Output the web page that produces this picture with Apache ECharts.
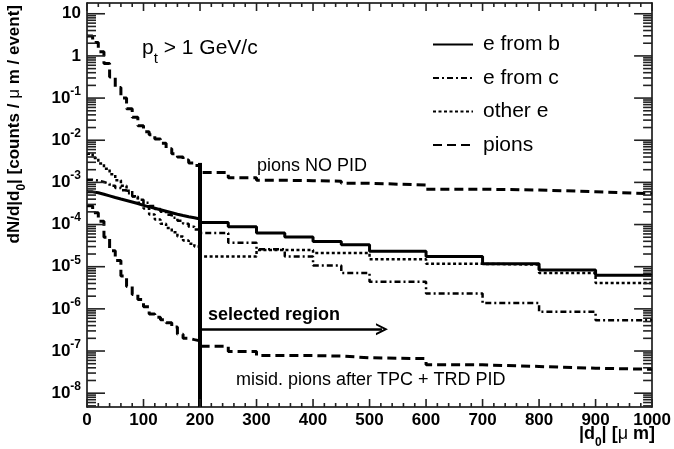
<!DOCTYPE html>
<html><head><meta charset="utf-8">
<script src="https://cdn.jsdelivr.net/npm/echarts@6/dist/echarts.min.js"></script>
<style>html,body{margin:0;padding:0;background:#fff}#c{width:674px;height:449px}</style>
</head><body><div id="c"></div>
<script>
// ---- data ----
const binEdges = [0,10,20,30,40,50,60,70,80,90,100,110,120,130,140,150,160,170,180,190,200,
                  250,300,350,400,450,500,600,700,800,900,1000];
const eFromB = [5.96e-4,5.69e-4,5.25e-4,4.79e-4,4.37e-4,4.03e-4,3.72e-4,3.43e-4,3.16e-4,2.85e-4,
                2.63e-4,2.43e-4,2.24e-4,2.07e-4,1.91e-4,1.76e-4,1.64e-4,1.53e-4,1.45e-4,1.36e-4,
                1.12e-4,8.85e-5,6.27e-5,5.04e-5,3.96e-5,3.31e-5,2.34e-5,1.74e-5,1.17e-5,8.3e-6,6.3e-6];
const eFromC = [1.15e-3,1.10e-3,1.02e-3,9.3e-4,8.3e-4,7.4e-4,6.5e-4,5.5e-4,4.7e-4,3.9e-4,
                3.3e-4,2.75e-4,2.34e-4,2.0e-4,1.7e-4,1.45e-4,1.23e-4,1.05e-4,8.9e-5,7.6e-5,
                6.3e-5,3.7e-5,2.6e-5,1.74e-5,1.07e-5,7.1e-6,4.4e-6,2.3e-6,1.38e-6,8.5e-7,5.4e-7];
const otherE = [4.8e-3,3.8e-3,2.8e-3,2.1e-3,1.55e-3,1.12e-3,8.3e-4,6.3e-4,4.6e-4,3.3e-4,
                2.4e-4,1.74e-4,1.32e-4,1.05e-4,8.3e-5,6.6e-5,5.2e-5,4.2e-5,3.5e-5,3.0e-5,
                1.74e-5,1.74e-5,2.5e-5,2.5e-5,2.1e-5,2.1e-5,1.5e-5,1.17e-5,1.12e-5,7.1e-6,4.1e-6];
const pionsNoPID = [2.95,2.09,1.26,0.66,0.316,0.178,0.1,0.056,0.035,0.022,
                    0.0158,0.0135,0.0107,0.0085,0.0063,0.0048,0.004,0.0034,0.0029,0.0025,
                    0.00172,0.00129,0.00112,0.0011,0.00107,0.00095,0.00087,0.00069,0.00066,0.0006,0.00054];
const pionsMisid = [2.8e-4,1.9e-4,1.2e-4,5.0e-5,2.4e-5,1.4e-5,6.0e-6,3.4e-6,2.2e-6,1.66e-6,
                    1.12e-6,7.6e-7,6.3e-7,5.5e-7,4.7e-7,3.7e-7,2.5e-7,2.0e-7,1.86e-7,1.74e-7,
                    1.29e-7,9.8e-8,7.8e-8,7.8e-8,7.6e-8,6.9e-8,6.6e-8,4.7e-8,4.3e-8,3.9e-8,3.7e-8];
const legendNames = ['e from b','e from c','other e','pions'];
const yMajorTicks = [1e-8,1e-7,1e-6,1e-5,1e-4,1e-3,1e-2,1e-1,1,10];
const xMajorTicks = [0,100,200,300,400,500,600,700,800,900,1000];
const xRange = [0, 1000];
const yRange = [4.7e-9, 18];
const cutX = 200;          // selected-region boundary (µm)
const cutTop = 2.9e-3;     // top of the boundary line
const arrowEndX = 522;     // arrow end (µm)
const arrowY = 3.3e-7;     // arrow height

// ---- helpers ----
function stepData(edges, vals) {
  const out = [];
  for (let i = 0; i < vals.length; i++) {
    out.push([edges[i], vals[i]]);
    out.push([edges[i + 1], vals[i]]);
  }
  return out;
}
const yMinorTicks = [];
for (let e = -9; e <= 1; e++) {
  for (let m = 2; m <= 9; m++) {
    const v = Number((m * Math.pow(10, e)).toPrecision(3));
    if (v >= yRange[0] && v <= yRange[1]) yMinorTicks.push(v);
  }
}
const xMinorTicks = [];
for (let i = 0; i < xMajorTicks.length - 1; i++) {
  for (let k = 1; k < 5; k++) xMinorTicks.push(xMajorTicks[i] + k * (xMajorTicks[i + 1] - xMajorTicks[i]) / 5);
}
// tick rows: [x, y, length, orientation(0 = y tick, 1 = x tick)]
const tickRows = [];
yMajorTicks.forEach(v => tickRows.push([xRange[0], v, 18, 0]));
yMinorTicks.forEach(v => tickRows.push([xRange[0], v, 9, 0]));
xMajorTicks.forEach(v => tickRows.push([v, 1, 8, 1]));
xMinorTicks.forEach(v => tickRows.push([v, 1, 4, 1]));

const FONT = "'Liberation Sans', Arial, Helvetica, sans-serif";
const BLACK = '#000';

function fmtY(v) {
  const e = Math.round(Math.log10(v));
  if (e === 0) return '{b|1}';
  if (e === 1) return '{b|10}';
  return '{b|10}{s|' + e + '}';
}
const yRich = {
  b: {fontSize: 17, fontWeight: 'bold', fontFamily: FONT, color: BLACK, lineHeight: 17, verticalAlign: 'bottom'},
  s: {fontSize: 12, fontWeight: 'bold', fontFamily: FONT, color: BLACK, lineHeight: 12, padding: [0, 0, 9, 0], verticalAlign: 'bottom'}
};

const axisLine = {show: true, onZero: false, lineStyle: {color: BLACK, width: 1.5}};
function xAxisDef(pos, showLabel) {
  return {
    type: 'value', position: pos, min: xRange[0], max: xRange[1], interval: 100,
    axisLine: axisLine,
    axisTick: {show: false},
    minorTick: {show: false},
    axisLabel: {show: showLabel, margin: 5, color: BLACK, fontSize: 17, fontWeight: 'bold', fontFamily: FONT,
                formatter: v => String(v)},
    splitLine: {show: false}, minorSplitLine: {show: false}
  };
}
function yAxisDef(pos, showLabel) {
  return {
    type: 'log', logBase: 10, position: pos, min: yRange[0], max: yRange[1],
    axisLine: axisLine,
    axisTick: {show: false},
    axisLabel: showLabel ? {show: true, customValues: yMajorTicks, margin: 6, formatter: fmtY, rich: yRich} : {show: false},
    splitLine: {show: false}, minorTick: {show: false}
  };
}

// ticks positioned through the axes' own scales
function renderTick(params, api) {
  const x = api.value(0), y = api.value(1), len = api.value(2), kind = api.value(3);
  const st = {stroke: '#222', lineWidth: 1.6};
  if (kind === 0) {
    const p = api.coord([xRange[0], y]);
    const q = api.coord([xRange[1], y]);
    return {type: 'group', children: [
      {type: 'line', shape: {x1: p[0], y1: p[1], x2: p[0] + len, y2: p[1]}, style: st},
      {type: 'line', shape: {x1: q[0] - len, y1: q[1], x2: q[0], y2: q[1]}, style: st}
    ]};
  }
  const b = api.coord([x, yRange[0]]);
  const t = api.coord([x, yRange[1]]);
  return {type: 'group', children: [
    {type: 'line', shape: {x1: b[0], y1: b[1], x2: b[0], y2: b[1] - len}, style: st},
    {type: 'line', shape: {x1: t[0], y1: t[1], x2: t[0], y2: t[1] + len}, style: st}
  ]};
}

const chart = echarts.init(document.getElementById('c'), null, {renderer: 'canvas'});
const option = {
  animation: false,
  backgroundColor: '#fff',
  grid: {left: 87, right: 19, top: 3, bottom: 42},
  xAxis: [xAxisDef('bottom', true), xAxisDef('top', false)],
  yAxis: [yAxisDef('left', true), yAxisDef('right', false)],
  legend: {
    data: legendNames, orient: 'vertical', left: 432, top: 34, padding: 0,
    itemWidth: 40, itemHeight: 14, itemGap: 12.5, selectedMode: false,
    itemStyle: {opacity: 0},
    textStyle: {fontSize: 21, fontFamily: FONT, color: BLACK, padding: [0, 0, 0, 5]}
  },
  series: [
    {name: 'e from b', type: 'line', symbol: 'none', z: 5, data: stepData(binEdges, eFromB),
     itemStyle: {color: BLACK}, lineStyle: {color: BLACK, width: 3, type: 'solid'},
     markLine: {
       silent: true, symbol: ['none', 'none'], label: {show: false}, animation: false,
       data: [
         [{coord: [cutX, cutTop], lineStyle: {color: BLACK, width: 4, type: 'solid'}}, {coord: [cutX, yRange[0]]}],
         [{coord: [cutX, arrowY], symbol: 'none', lineStyle: {color: BLACK, width: 2.5, type: 'solid'}},
          {coord: [arrowEndX, arrowY], symbol: 'path://M0,10 L5,0 L10,10 L8.2,10 L5,3.6 L1.8,10 Z', symbolSize: [12, 12]}]
       ]
     }},
    {name: 'e from c', type: 'line', symbol: 'none', z: 4, data: stepData(binEdges, eFromC),
     itemStyle: {color: BLACK}, lineStyle: {color: BLACK, width: 2.5, type: [6, 3, 2, 3]}},
    {name: 'other e', type: 'line', symbol: 'none', z: 4, data: stepData(binEdges, otherE),
     itemStyle: {color: BLACK}, lineStyle: {color: BLACK, width: 2.5, type: [3, 2.5]}},
    {name: 'pions', type: 'line', symbol: 'none', z: 4, data: stepData(binEdges, pionsNoPID),
     itemStyle: {color: BLACK}, lineStyle: {color: BLACK, width: 3, type: [9, 5]}},
    {name: 'pions misid', type: 'line', symbol: 'none', z: 4, data: stepData(binEdges, pionsMisid),
     itemStyle: {color: BLACK}, lineStyle: {color: BLACK, width: 3, type: [9, 5]}},
    {name: 'ticks', type: 'custom', coordinateSystem: 'cartesian2d', xAxisIndex: 0, yAxisIndex: 0,
     silent: true, z: 10, clip: false, data: tickRows,
     encode: {x: 0, y: 1}, renderItem: renderTick}
  ],
  graphic: [
    {type: 'text', x: 16, y: 5, rotation: Math.PI / 2, silent: true,
     style: {text: '{a|dN/d|d}{s|0}{a|| [counts / }{m|μ}{a| m / event]}', align: 'right', verticalAlign: 'middle', fill: BLACK,
       rich: {a: {fontSize: 17, fontWeight: 'bold', fontFamily: FONT, fill: BLACK, lineHeight: 20, verticalAlign: 'top'},
              s: {fontSize: 12, fontWeight: 'bold', fontFamily: FONT, fill: BLACK, lineHeight: 12, padding: [10, 0, 0, 0], verticalAlign: 'top'},
              m: {fontSize: 17, fontFamily: FONT, fill: BLACK, lineHeight: 20, verticalAlign: 'top'}}}},
    {type: 'text', x: 655, y: 425, silent: true,
     style: {text: '{a||d}{s|0}{a|| [}{m|μ}{a| m]}', align: 'right', verticalAlign: 'top', fill: BLACK,
       rich: {a: {fontSize: 18, fontWeight: 'bold', fontFamily: FONT, fill: BLACK, lineHeight: 20, verticalAlign: 'top'},
              s: {fontSize: 12, fontWeight: 'bold', fontFamily: FONT, fill: BLACK, lineHeight: 12, padding: [12, 0, 0, 0], verticalAlign: 'top'},
              m: {fontSize: 18, fontFamily: FONT, fill: BLACK, lineHeight: 20, verticalAlign: 'top'}}}},
    {type: 'text', x: 142, y: 38, silent: true,
     style: {text: '{a|p}{t|t}{a| > 1 GeV/c}', align: 'left', verticalAlign: 'top', fill: BLACK,
       rich: {a: {fontSize: 21, fontFamily: FONT, fill: BLACK, lineHeight: 24, verticalAlign: 'top'},
              t: {fontSize: 15, fontFamily: FONT, fill: BLACK, lineHeight: 15, padding: [13, 0, 0, 0], verticalAlign: 'top'}}}},
    {type: 'text', x: 257, y: 166.5, silent: true,
     style: {text: 'pions NO PID', fontSize: 18, fontFamily: FONT, fill: BLACK, align: 'left', verticalAlign: 'middle'}},
    {type: 'text', x: 208, y: 315.5, silent: true,
     style: {text: 'selected region', fontSize: 18, fontWeight: 'bold', fontFamily: FONT, fill: BLACK, align: 'left', verticalAlign: 'middle'}},
    {type: 'text', x: 236, y: 380, silent: true,
     style: {text: 'misid. pions after TPC + TRD PID', fontSize: 18, fontFamily: FONT, fill: BLACK, align: 'left', verticalAlign: 'middle'}}
  ]
};
chart.setOption(option);
</script>
</body></html>
